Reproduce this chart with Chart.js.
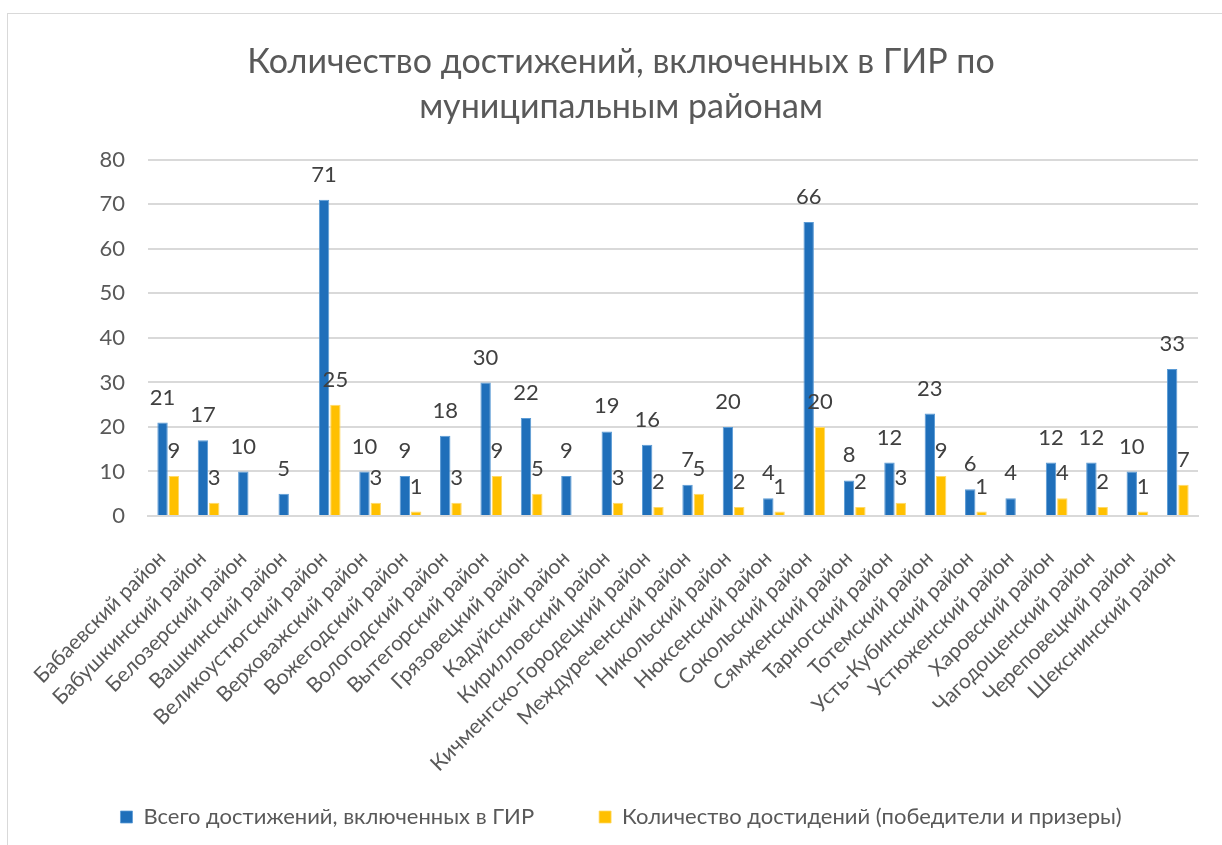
<!DOCTYPE html>
<html>
<head>
<meta charset="utf-8">
<script src="https://cdn.jsdelivr.net/npm/chart.js@4"></script>
<style>
  html, body { margin: 0; padding: 0; background: #fff; overflow: hidden; }
  #frame { position: absolute; left: 7px; top: 13px; width: 1300px; height: 900px; border: 1px solid #d9d9d9; }
  #wrap { position: absolute; left: 0; top: 0; width: 1222px; height: 845px; }
</style>
</head>
<body>
<div id="frame"></div>
<div id="wrap"><canvas id="chart"></canvas></div>
<script>
const districts = [
  "Бабаевский район", "Бабушкинский район", "Белозерский район", "Вашкинский район",
  "Великоустюгский район", "Верховажский район", "Вожегодский район", "Вологодский район",
  "Вытегорский район", "Грязовецкий район", "Кадуйский район", "Кирилловский район",
  "Кичменгско-Городецкий район", "Междуреченский район", "Никольский район", "Нюксенский район",
  "Сокольский район", "Сямженский район", "Тарногский район", "Тотемский район",
  "Усть-Кубинский район", "Устюженский район", "Харовский район", "Чагодощенский район",
  "Череповецкий район", "Шекснинский район"
];
const totalAchievements = [21, 17, 10, 5, 71, 10, 9, 18, 30, 22, 9, 19, 16, 7, 20, 4, 66, 8, 12, 23, 6, 4, 12, 12, 10, 33];
const winnersAndPrizes = [9, 3, null, null, 25, 3, 1, 3, 9, 5, null, 3, 2, 5, 2, 1, 20, 2, 3, 9, 1, null, 4, 2, 1, 7];

const textColor = "#595959";
const font = "Lato, 'Liberation Sans', sans-serif";

// value labels above every bar
const barValues = {
  id: "barValues",
  afterDatasetsDraw(chart) {
    const ctx = chart.ctx;
    ctx.save();
    ctx.font = "22px " + font;
    ctx.fillStyle = "#404040";
    ctx.textAlign = "center";
    ctx.textBaseline = "bottom";
    chart.data.datasets.forEach((ds, di) => {
      chart.getDatasetMeta(di).data.forEach((bar, i) => {
        const v = ds.data[i];
        if (v === null || v === undefined) return;
        ctx.fillText(String(v), bar.x, bar.y - 14);
      });
    });
    ctx.restore();
  }
};

// long rotated category names run past the axis box, don't clip them
const noLabelClip = {
  id: "noLabelClip",
  afterLayout(chart) {
    chart.scales.x._computeLabelArea = () => undefined;
  }
};

new Chart(document.getElementById("chart"), {
  type: "bar",
  data: {
    labels: districts,
    datasets: [
      {
        label: "Всего достижений, включенных в ГИР",
        data: totalAchievements,
        backgroundColor: "#1f6fba",
        borderColor: "#5b9bd5",
        borderWidth: { left: 1, right: 1, top: 1, bottom: 0 },
        barPercentage: 0.92,
        categoryPercentage: 0.56,
      },
      {
        label: "Количество достидений (победители и призеры)",
        data: winnersAndPrizes,
        backgroundColor: "#ffc000",
        borderColor: "#ffd966",
        borderWidth: { left: 1, right: 1, top: 1, bottom: 0 },
        barPercentage: 0.92,
        categoryPercentage: 0.56,
      },
    ],
  },
  options: {
    responsive: true,
    maintainAspectRatio: false,
    animation: false,
    layout: { padding: { top: 8, left: 44, right: 24, bottom: 7 } },
    plugins: {
      title: {
        display: true,
        text: ["Количество достижений, включенных в ГИР по", "муниципальным районам"],
        color: textColor,
        font: { family: font, size: 34, weight: "normal", lineHeight: 1.32 },
        padding: { top: 32, bottom: 30 },
      },
      legend: {
        position: "bottom",
        labels: {
          color: textColor,
          font: { family: font, size: 22 },
          boxWidth: 12,
          boxHeight: 12,
          padding: 65,
          useBorderRadius: false,
        },
      },
      tooltip: { enabled: false },
    },
    scales: {
      x: {
        grid: { display: false },
        border: { display: true, color: "#d9d9d9", width: 2 },
        ticks: {
          color: textColor,
          font: { family: font, size: 21 },
          minRotation: 45,
          maxRotation: 45,
          autoSkip: false,
          padding: 22,
          labelOffset: -6,
        },
        afterFit: (s) => { s.height = 225; },
      },
      y: {
        min: 0,
        max: 80,
        ticks: {
          stepSize: 10,
          color: textColor,
          font: { family: font, size: 22 },
          padding: 23,
        },
        grid: { color: "#d9d9d9", lineWidth: 2, drawTicks: false },
        border: { display: false },
        afterFit: (s) => { s.width = 104; },
      },
    },
  },
  plugins: [barValues, noLabelClip],
});
</script>
</body>
</html>
